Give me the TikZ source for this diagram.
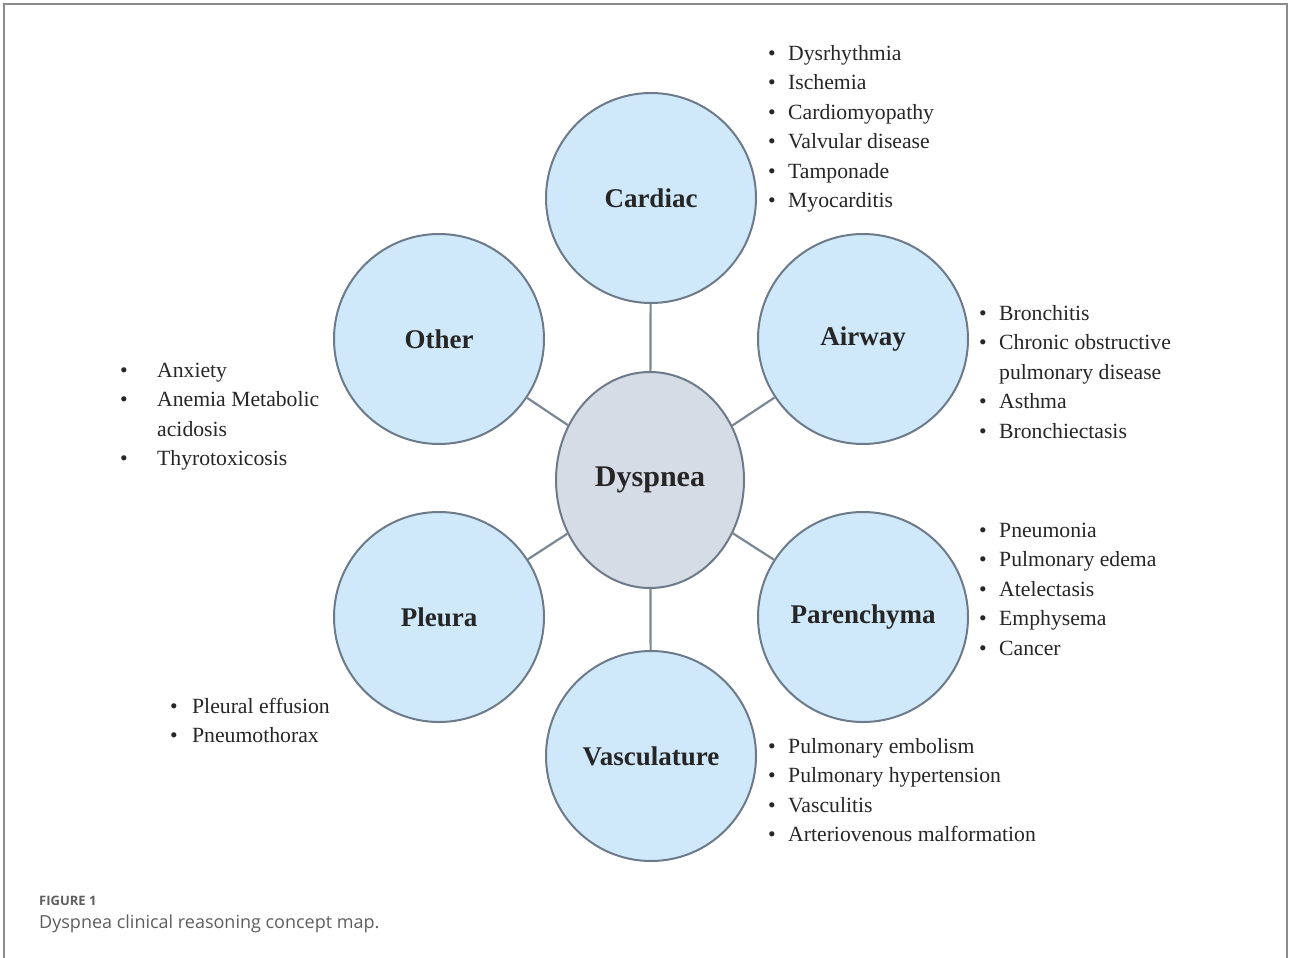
\documentclass[tikz,border=0pt]{standalone}
\usepackage{fontspec}
\setmainfont{Liberation Serif}
\newfontfamily\capfont{Open Sans}
\usetikzlibrary{shapes.geometric}
\definecolor{ink}{HTML}{262626}
\definecolor{rim}{HTML}{6C7A89}
\definecolor{link}{HTML}{7B8794}
\definecolor{sky}{HTML}{CFE9FB}
\definecolor{slate}{HTML}{D6DCE5}
\definecolor{frame}{HTML}{8C8C8C}
\definecolor{note}{HTML}{5E5E5E}

\begin{document}
\begin{tikzpicture}[x=1pt,y=-1pt,text=ink,
  cause/.style={circle,draw=rim,line width=2pt,fill=sky,minimum size=210pt,inner sep=0pt,
    font=\fontsize{27}{30}\selectfont\bfseries},
  hub/.style={ellipse,draw=rim,line width=2pt,fill=slate,minimum width=188pt,minimum height=216pt,
    inner sep=0pt,font=\fontsize{30}{32}\selectfont\bfseries},
  spoke/.style={draw=link,line width=2.2pt},
  items/.style={anchor=base west,inner sep=0pt,font=\fontsize{21.7}{29.5}\selectfont}]
  \useasboundingbox (0,0) rectangle (1290,958);
  \draw[frame,line width=1.5pt] (4,958) -- (4,4) -- (1287,4) -- (1287,958);

  % hub and the six groups of causes
  \node[hub] (dyspnea) at (650,480) {Dyspnea};
  \node[cause] (cardiac) at (651,198) {Cardiac};
  \node[cause] (airway) at (863,339) {Airway};
  \node[cause] (parenchyma) at (863,617) {Parenchyma};
  \node[cause] (vasculature) at (651,756) {Vasculature};
  \node[cause] (pleura) at (439,617) {Pleura};
  \node[cause] (other) at (439,339) {Other};

  \draw[spoke] (dyspnea) -- (cardiac);
  \draw[spoke] (dyspnea) -- (airway);
  \draw[spoke] (dyspnea) -- (parenchyma);
  \draw[spoke] (dyspnea) -- (vasculature);
  \draw[spoke] (dyspnea) -- (pleura);
  \draw[spoke] (dyspnea) -- (other);

  % lists beside each circle
  \node[items] (cardiaclist) at (768,60) {\begin{tabular}[t]{@{}p{20pt}@{}l@{}}
    \textbullet & Dysrhythmia\\ \textbullet & Ischemia\\ \textbullet & Cardiomyopathy\\
    \textbullet & Valvular disease\\ \textbullet & Tamponade\\ \textbullet & Myocarditis\end{tabular}};
  \node[items] (airwaylist) at (979,320) {\begin{tabular}[t]{@{}p{20pt}@{}l@{}}
    \textbullet & Bronchitis\\ \textbullet & Chronic obstructive\\ & pulmonary disease\\
    \textbullet & Asthma\\ \textbullet & Bronchiectasis\end{tabular}};
  \node[items] (parenchymalist) at (979,537) {\begin{tabular}[t]{@{}p{20pt}@{}l@{}}
    \textbullet & Pneumonia\\ \textbullet & Pulmonary edema\\ \textbullet & Atelectasis\\
    \textbullet & Emphysema\\ \textbullet & Cancer\end{tabular}};
  \node[items] (vasculaturelist) at (768,753) {\begin{tabular}[t]{@{}p{20pt}@{}l@{}}
    \textbullet & Pulmonary embolism\\ \textbullet & Pulmonary hypertension\\
    \textbullet & Vasculitis\\ \textbullet & Arteriovenous malformation\end{tabular}};
  \node[items] (pleuralist) at (170,713) {\begin{tabular}[t]{@{}p{22pt}@{}l@{}}
    \textbullet & Pleural effusion\\ \textbullet & Pneumothorax\end{tabular}};
  \node[items] (otherlist) at (120,377) {\begin{tabular}[t]{@{}p{37pt}@{}l@{}}
    \textbullet & Anxiety\\ \textbullet & Anemia Metabolic\\ & acidosis\\
    \textbullet & Thyrotoxicosis\end{tabular}};

  % caption
  \node[anchor=base west,inner sep=0pt,text=note,font=\capfont\fontsize{13}{15}\selectfont\bfseries]
    (figno) at (39,905) {FIGURE 1};
  \node[anchor=base west,inner sep=0pt,text=note,font=\capfont\fontsize{18}{20}\selectfont]
    (caption) at (39,928) {Dyspnea clinical reasoning concept map.};
\end{tikzpicture}
\end{document}
